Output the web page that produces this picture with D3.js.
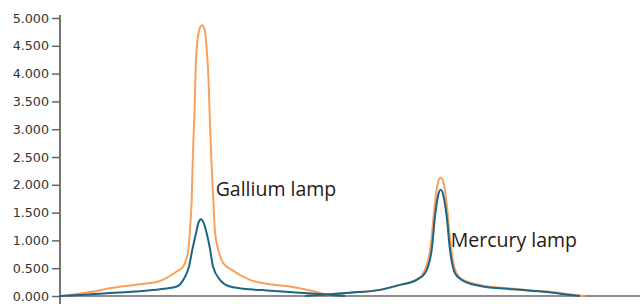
<!DOCTYPE html>
<html><head><meta charset="utf-8">
<script src="https://cdn.jsdelivr.net/npm/d3@7"></script>
<style>
html,body{margin:0;padding:0;background:#fff;}
svg{display:block;}
</style></head>
<body>
<svg id="chart" width="640" height="304"></svg>
<script>
// Y tick values
const yTicks = [0, 0.5, 1, 1.5, 2, 2.5, 3, 3.5, 4, 4.5, 5];

// Gallium lamp, orange series (position, intensity)
const galliumOrangeX = [2, 15, 30, 50, 80, 100, 116.7, 123.3, 126, 128.3, 130, 131.7, 133, 134.5, 135.7, 137.5, 139.5, 142, 144.5, 146.5, 148.5, 150, 151.5, 153.3, 155, 158.3, 163.3, 171.7, 190, 210, 230, 250, 265, 270];
const galliumOrangeY = [0, 0.03, 0.07, 0.14, 0.21, 0.27, 0.44, 0.53, 0.65, 0.83, 1.2, 1.73, 2.6, 3.3, 4.1, 4.6, 4.8, 4.87, 4.8, 4.5, 3.9, 3.1, 2.4, 1.73, 1.15, 0.83, 0.59, 0.47, 0.29, 0.21, 0.17, 0.10, 0.03, 0];

// Gallium lamp, blue series
const galliumBlueX = [0, 20, 47, 80, 100, 116.7, 123.3, 129, 132.5, 136, 138.5, 141, 143.5, 146.7, 150, 153, 160, 170, 190, 207, 240, 267, 285];
const galliumBlueY = [0, 0.02, 0.05, 0.085, 0.12, 0.17, 0.29, 0.53, 0.85, 1.13, 1.32, 1.38, 1.32, 1.13, 0.85, 0.53, 0.29, 0.17, 0.12, 0.1, 0.06, 0.025, 0];

// Mercury lamp, orange series
const mercuryOrangeX = [245, 270, 290, 320, 340, 356.7, 364.5, 371, 374.5, 377.5, 380.7, 384, 387, 390.5, 395.5, 402, 420, 453, 487, 515, 525];
const mercuryOrangeY = [0, 0.03, 0.06, 0.11, 0.2, 0.3, 0.45, 0.95, 1.6, 2.0, 2.13, 2.0, 1.6, 0.95, 0.45, 0.3, 0.2, 0.13, 0.08, 0.02, 0];

// Mercury lamp, blue series
const mercuryBlueX = [245, 270, 290, 320, 340, 356.7, 365, 371.7, 375, 378, 380.7, 383.5, 386.7, 390, 395, 401.7, 420, 453, 487, 513, 520];
const mercuryBlueY = [0, 0.03, 0.06, 0.11, 0.2, 0.29, 0.41, 0.83, 1.43, 1.8, 1.91, 1.8, 1.43, 0.83, 0.41, 0.29, 0.18, 0.12, 0.07, 0.013, 0];

const labels = [
  {text: "Gallium lamp", x: 141.7, y: 1.9, dx: 14},
  {text: "Mercury lamp", x: 380.7, y: 0.97, dx: 10}
];

const W = 640, H = 304;
const margin = {left: 60, top: 18, bottom: 8};
const svg = d3.select("#chart");

const x = d3.scaleLinear().domain([0, 580]).range([margin.left, W]);
const y = d3.scaleLinear().domain([0, 5]).range([H - margin.bottom, margin.top]);

const orange = "#f9a05b", blue = "#1b6587";

// x axis line
svg.append("line")
  .attr("x1", x(0)).attr("x2", W)
  .attr("y1", y(0)).attr("y2", y(0))
  .attr("stroke", "#8c8c8c").attr("stroke-width", 2);

// y axis
const yAxis = d3.axisLeft(y).tickValues(yTicks).tickFormat(d3.format(".3f"))
  .tickSize(8).tickSizeOuter(0).tickPadding(3);
const ga = svg.append("g").attr("transform", `translate(${x(0)},0)`).call(yAxis);
ga.select(".domain").remove();
ga.selectAll(".tick line").attr("stroke", "#666").attr("stroke-width", 1.5);
ga.selectAll(".tick text").attr("fill", "#333")
  .style("font-family", "DejaVu Sans, Verdana, sans-serif").style("font-size", "12.7px");
svg.append("line")
  .attr("x1", x(0)).attr("x2", x(0))
  .attr("y1", y(5) - 3).attr("y2", H)
  .attr("stroke", "#666").attr("stroke-width", 1.8);

const line = d3.line().x(d => x(d[0])).y(d => y(d[1])).curve(d3.curveMonotoneX);
const series = [
  {xs: galliumOrangeX, ys: galliumOrangeY, c: orange},
  {xs: mercuryOrangeX, ys: mercuryOrangeY, c: orange},
  {xs: galliumBlueX, ys: galliumBlueY, c: blue},
  {xs: mercuryBlueX, ys: mercuryBlueY, c: blue}
];
series.forEach(s => {
  svg.append("path")
    .datum(s.xs.map((v, i) => [v, s.ys[i]]))
    .attr("d", line)
    .attr("fill", "none")
    .attr("stroke", s.c)
    .attr("stroke-width", 2);
});

labels.forEach(l => {
  svg.append("text")
    .attr("x", x(l.x) + l.dx).attr("y", y(l.y))
    .attr("dominant-baseline", "middle")
    .attr("fill", "#2a1717")
    .style("font-family", "'Open Sans', sans-serif")
    .style("font-size", "19.5px")
    .text(l.text);
});
</script>
</body></html>
